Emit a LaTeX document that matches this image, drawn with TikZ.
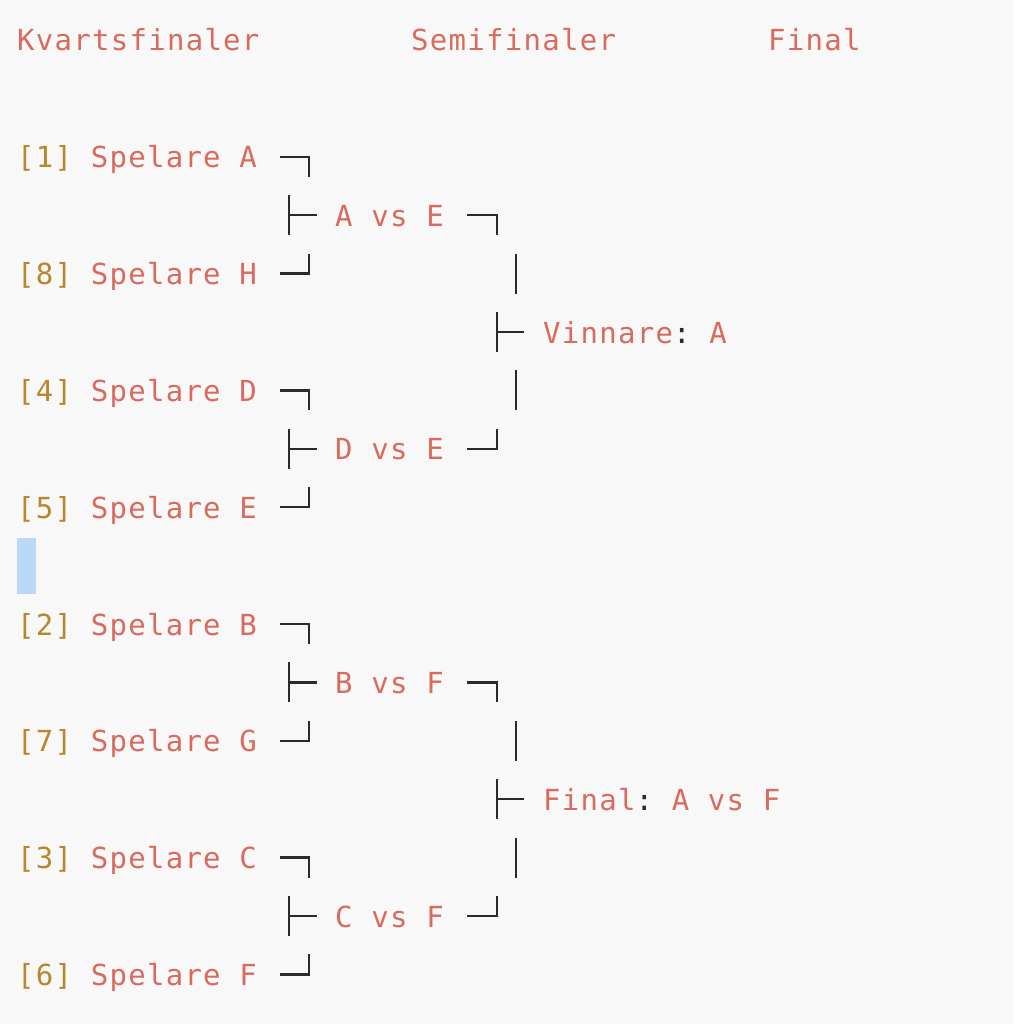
\documentclass[tikz,border=0pt]{standalone}
\usepackage{fontspec}
\setmonofont{DejaVu Sans Mono}[LetterSpace=4.4]
\usepackage{tikz}
\definecolor{entry}{HTML}{D96B5E}
\definecolor{seed}{HTML}{B8862B}
\definecolor{ink}{HTML}{2B2B2B}
\definecolor{paper}{HTML}{F8F8F8}
\definecolor{caret}{HTML}{BCD8F8}
\tikzset{
    entry/.style = {anchor=base west,inner sep=0,text=entry,font=\ttfamily\fontsize{29}{34}\selectfont},
    wire/.style = {draw=ink,line width=2.4pt}
}

\begin{document}
\begin{tikzpicture}[x=1pt,y=-1pt]
        \newcommand*\rowh{58.4}
        \newcommand*\ytop{40}
        % Canvas
        \fill[paper] (0,0) rectangle (1014,1024);
        \useasboundingbox (0,0) rectangle (1014,1024);
        \fill[caret] (17,538) rectangle (36,594);
        % Headings
        \path (17,51) node[entry] (kvart) {Kvartsfinaler}
            (411,51) node[entry] (semi) {Semifinaler}
            (768,51) node[entry] (final) {Final}
        ;
        % Players
        \foreach \r/\s/\p in {2/1/A,4/8/H,6/4/D,8/5/E,10/2/B,12/7/G,14/3/C,16/6/F}
            \node[entry] (p\s) at (17,{\ytop+\rowh*\r+11}) {\textcolor{seed}{[\s]} Spelare \p};
        % Matches
        \foreach \r/\n/\t in {3/ae/A vs E,7/de/D vs E,11/bf/B vs F,15/cf/C vs F}
            \node[entry] (\n) at (335,{\ytop+\rowh*\r+11}) {\t};
        % Results
        \path (543,{\ytop+\rowh*5+11}) node[entry] (winner) {Vinnare\textcolor{ink}{:} A}
            (543,{\ytop+\rowh*13+11}) node[entry] (grand) {Final\textcolor{ink}{:} A vs F}
        ;
        % Quarterfinal brackets
        \foreach \r in {2,6,10,14} {
            \draw[wire] (280,{\ytop+\rowh*\r}) -| (309,{\ytop+\rowh*\r+20});
            \draw[wire] (280,{\ytop+\rowh*(\r+2)}) -| (309,{\ytop+\rowh*(\r+2)-20});
            \draw[wire] (289,{\ytop+\rowh*(\r+1)-20}) -- ++(0,40)
                (289,{\ytop+\rowh*(\r+1)}) -- ++(28,0);
        }
        % Semifinal brackets
        \foreach \r in {3,11} {
            \draw[wire] (467,{\ytop+\rowh*\r}) -| (497,{\ytop+\rowh*\r+20});
            \draw[wire] (516,{\ytop+\rowh*(\r+1)-20}) -- ++(0,40);
            \draw[wire] (497,{\ytop+\rowh*(\r+2)-20}) -- ++(0,40)
                (497,{\ytop+\rowh*(\r+2)}) -- ++(27,0);
            \draw[wire] (516,{\ytop+\rowh*(\r+3)-20}) -- ++(0,40);
            \draw[wire] (467,{\ytop+\rowh*(\r+4)}) -| (497,{\ytop+\rowh*(\r+4)-20});
        }
    \end{tikzpicture}
\end{document}
